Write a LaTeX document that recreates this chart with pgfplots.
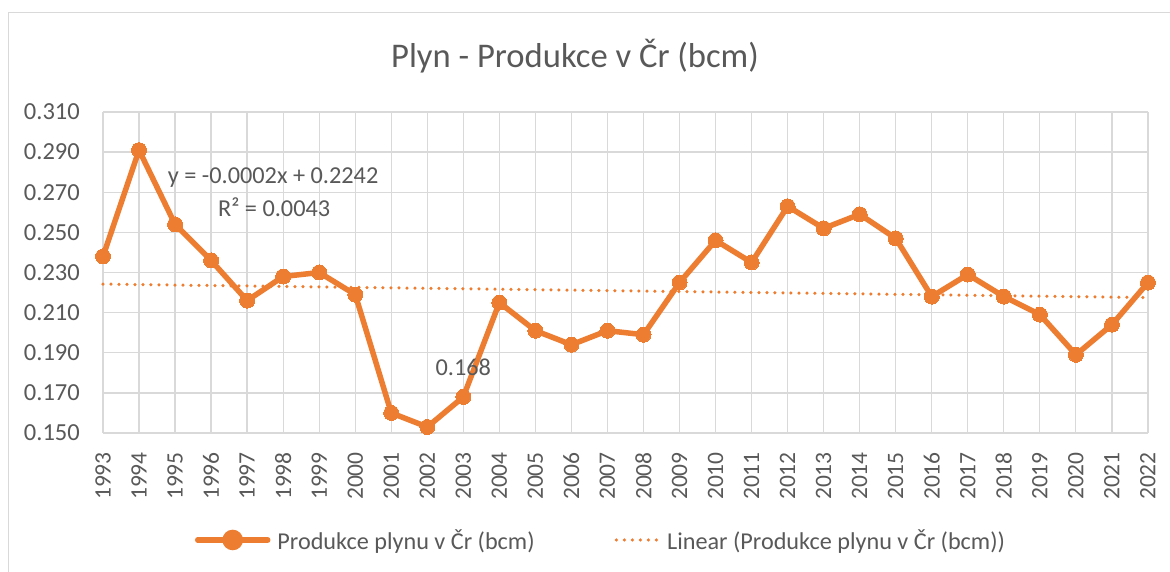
\documentclass[border=0pt]{standalone}
\usepackage{fontspec}
\setmainfont{Carlito}
\usepackage{pgfplots}
\pgfplotsset{compat=1.18}
\definecolor{xlorange}{HTML}{ED7D31}
\definecolor{xltext}{HTML}{595959}
\definecolor{xlgrid}{HTML}{D9D9D9}
\begin{document}
\begin{tikzpicture}[x=1pt,y=1pt]
\useasboundingbox (0,0) rectangle (1170,572);
\begin{scope}
\clip (0,0) rectangle (1170,572);
\fill[white] (0,0) rectangle (1170,572);
\draw[xlgrid, line width=1.2pt] (8.5,-20) -- (8.5,559.5) -- (1190,559.5);
\end{scope}
\node[text=xltext, font=\fontsize{34.6}{36}\selectfont] at (575,516) {Plyn - Produkce v Čr (bcm)};
\begin{axis}[
  at={(103pt,139pt)}, anchor=south west,
  scale only axis, width=1045pt, height=321pt,
  xmin=1993, xmax=2022, ymin=0.15, ymax=0.31,
  xtick={1993,1994,...,2022},
  xticklabels={1993,1994,1995,1996,1997,1998,1999,2000,2001,2002,2003,2004,2005,2006,2007,2008,2009,2010,2011,2012,2013,2014,2015,2016,2017,2018,2019,2020,2021,2022},
  ytick={0.15,0.17,0.19,0.21,0.23,0.25,0.27,0.29,0.31},
  yticklabels={0.150,0.170,0.190,0.210,0.230,0.250,0.270,0.290,0.310},
  grid=major,
  grid style={xlgrid, line width=1.3pt},
  axis line style={draw=none},
  axis x line*=bottom,
  x axis line style={draw=xlgrid, line width=1.3pt},
  axis y line*=left,
  y axis line style={draw=none},
  major tick length=0pt,
  tick style={draw=none},
  ticklabel style={text=xltext},
  yticklabel style={font=\fontsize{24.5}{24.5}\selectfont, anchor=east, inner sep=0pt, xshift=-23pt},
  xticklabel style={font=\fontsize{23.5}{23.5}\selectfont, inner sep=0pt, yshift=-19pt, rotate=90, anchor=east},
  clip=false,
  legend columns=2,
  legend style={at={(0.4756,-0.3333)}, anchor=center, draw=none, fill=none,
    font=\fontsize{24.2}{24.2}\selectfont, text=xltext,
    /tikz/every odd column/.append style={column sep=7pt},
    /tikz/every even column/.append style={column sep=80pt},
    nodes={inner sep=0pt}},
]
\addplot[xlorange, line width=5.5pt, mark=*, mark size=7.5pt, mark options={solid, fill=xlorange, draw=xlorange, line width=0pt},
  legend image code/.code={
    \draw[xlorange, line width=5.5pt, line cap=round] (0pt,0pt) -- (70pt,0pt);
    \fill[xlorange] (35pt,0pt) circle (7.5pt);
  }] coordinates {
(1993,0.238) (1994,0.291) (1995,0.254) (1996,0.236) (1997,0.216)
(1998,0.228) (1999,0.230) (2000,0.219) (2001,0.160) (2002,0.153)
(2003,0.168) (2004,0.215) (2005,0.201) (2006,0.194) (2007,0.201)
(2008,0.199) (2009,0.225) (2010,0.246) (2011,0.235) (2012,0.263)
(2013,0.252) (2014,0.259) (2015,0.247) (2016,0.218) (2017,0.229)
(2018,0.218) (2019,0.209) (2020,0.189) (2021,0.204) (2022,0.225)
};
\addlegendentry{Produkce plynu v Čr (bcm)}
\addplot[xlorange, line width=3.5pt, line cap=round, dash pattern=on 0pt off 8pt,
  legend image code/.code={
    \draw[xlorange, line width=3.5pt, line cap=round, dash pattern=on 0pt off 8pt] (0pt,0pt) -- (42pt,0pt);
  }] coordinates {(1993,0.2242) (2022,0.2175)};
\addlegendentry{Linear (Produkce plynu v Čr (bcm))}
\node[text=xltext, font=\fontsize{24.3}{24.3}\selectfont] at (axis cs:1997.72,0.2771) {y = -0.0002x + 0.2242};
\node[text=xltext, font=\fontsize{24.3}{24.3}\selectfont] at (axis cs:1997.75,0.2626) {R² = 0.0043};
\node[text=xltext, font=\fontsize{24.3}{24.3}\selectfont] at (axis cs:2003,0.1828) {0.168};
\end{axis}
\end{tikzpicture}
\end{document}
